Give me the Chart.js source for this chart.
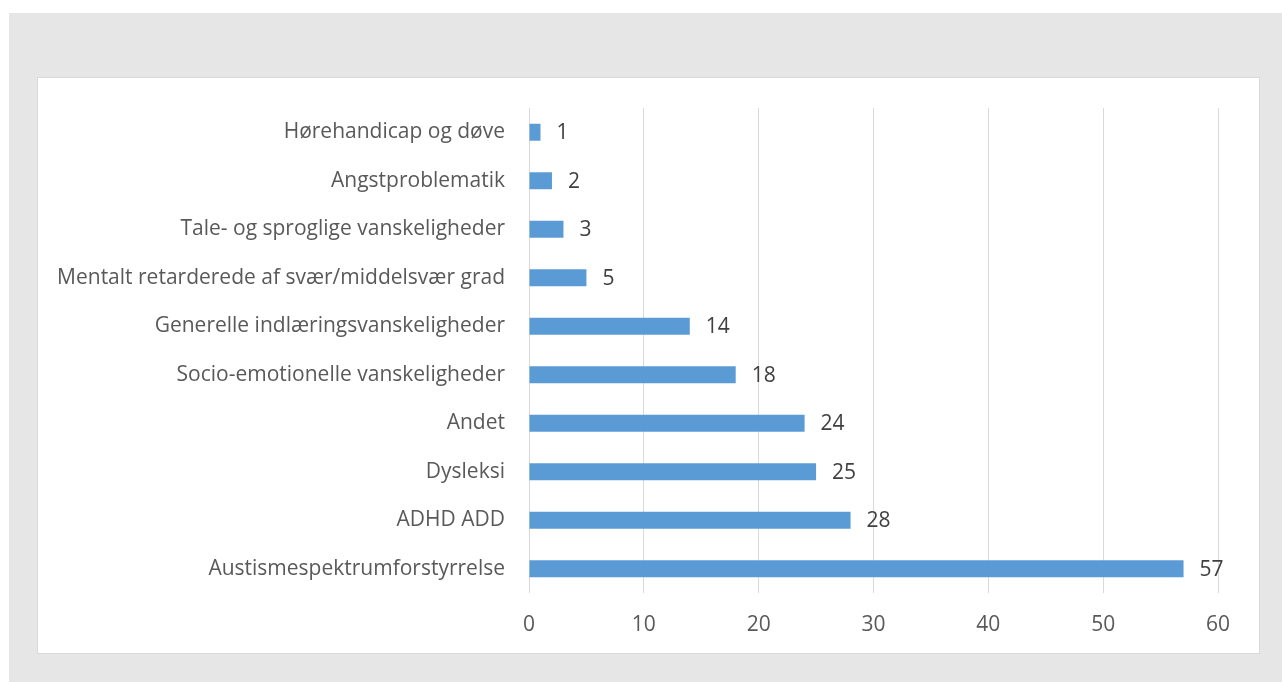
<!DOCTYPE html>
<html>
<head>
<meta charset="utf-8">
<script src="https://cdn.jsdelivr.net/npm/chart.js@4"></script>
<style>
  html, body { margin: 0; padding: 0; background: #fff; }
  #bg { position: absolute; left: 9px; top: 13px; width: 1273px; height: 669px; background: #e6e6e6; }
  #panel { position: absolute; left: 37px; top: 77px; width: 1221px; height: 575px; background: #fff; border: 1px solid #d9d9d9; }
  #myChart { position: absolute; left: 0; top: 0; }
</style>
</head>
<body>
<div id="bg"></div>
<div id="panel"><canvas id="myChart" width="1221" height="575"></canvas></div>
<script>
const categories = [
  'Hørehandicap og døve',
  'Angstproblematik',
  'Tale- og sproglige vanskeligheder',
  'Mentalt retarderede af svær/middelsvær grad',
  'Generelle indlæringsvanskeligheder',
  'Socio-emotionelle vanskeligheder',
  'Andet',
  'Dysleksi',
  'ADHD ADD',
  'Austismespektrumforstyrrelse'
];
const counts = [1, 2, 3, 5, 14, 18, 24, 25, 28, 57];
const xTicks = [0, 10, 20, 30, 40, 50, 60];

const textColor = '#595959';
const fontFamily = '"Open Sans", sans-serif';

// labels at the end of each bar
const barLabels = {
  id: 'barLabels',
  afterDatasetsDraw(chart) {
    const ctx = chart.ctx;
    ctx.save();
    ctx.font = '21px ' + fontFamily;
    ctx.fillStyle = '#404040';
    ctx.textAlign = 'left';
    ctx.textBaseline = 'middle';
    chart.getDatasetMeta(0).data.forEach((bar, i) => {
      ctx.fillText(counts[i], bar.x + 16, bar.y + 1);
    });
    ctx.restore();
  }
};

const ctx = document.getElementById('myChart').getContext('2d');

var myChart = new Chart(ctx, {
    type: 'bar',
    data: {
        labels: categories,
        datasets: [{
            data: counts,
            backgroundColor: '#5b9bd5',
            borderWidth: 0,
            barPercentage: 0.7,
            categoryPercentage: 0.5
        }]
    },
    options: {
        indexAxis: 'y',
        responsive: false,
        animation: false,
        layout: { padding: { top: 30, right: 41, bottom: 0, left: 0 } },
        plugins: {
            legend: { display: false },
            tooltip: { enabled: false }
        },
        scales: {
            x: {
                min: 0,
                max: 60,
                afterBuildTicks: (scale) => { scale.ticks = xTicks.map(v => ({ value: v })); },
                afterFit: (scale) => { scale.height = 60; },
                grid: { color: '#d9d9d9', lineWidth: 1, drawTicks: false },
                border: { display: false },
                ticks: { color: textColor, font: { family: fontFamily, size: 21 }, padding: 19 }
            },
            y: {
                afterFit: (scale) => {
                    scale.width = 491;
                    scale.paddingTop = 0;
                    scale.paddingBottom = 0;
                },
                grid: { display: false, drawTicks: false },
                border: { display: false },
                ticks: { color: textColor, font: { family: fontFamily, size: 21 }, padding: 24 }
            }
        }
    },
    plugins: [barLabels]
});
</script>
</body>
</html>
